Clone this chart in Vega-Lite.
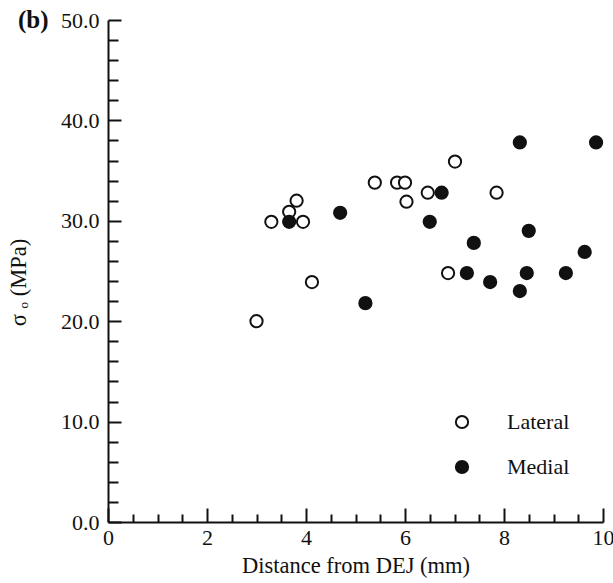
{
  "$schema": "https://vega.github.io/schema/vega-lite/v6.json",
  "width": 495,
  "height": 502,
  "autosize": {"type": "none"},
  "padding": {"left": 108, "top": 20, "right": 10, "bottom": 61},
  "background": "white",
  "title": {"text": "(b)", "anchor": "start", "frame": "group", "orient": "top", "dx": -90, "offset": -36, "baseline": "middle", "font": "Liberation Serif", "fontSize": 25, "fontWeight": "bold", "color": "#111"},
  "config": {
    "view": {"stroke": null},
    "axis": {"grid": false, "labelFlush": false, "domainColor": "#111", "domainWidth": 2, "tickColor": "#111", "tickWidth": 2, "labelFont": "Liberation Serif", "labelFontSize": 22, "labelColor": "#111", "titleFont": "Liberation Serif", "titleFontSize": 22.5, "titleFontWeight": "normal", "titleColor": "#111"}
  },
  "data": {"values": [
    {"d": 3.0, "s": 20.0, "side": "Lateral"},
    {"d": 3.3, "s": 29.9, "side": "Lateral"},
    {"d": 3.66, "s": 30.9, "side": "Lateral"},
    {"d": 3.81, "s": 32.0, "side": "Lateral"},
    {"d": 3.94, "s": 29.9, "side": "Lateral"},
    {"d": 4.12, "s": 23.9, "side": "Lateral"},
    {"d": 5.39, "s": 33.8, "side": "Lateral"},
    {"d": 5.84, "s": 33.8, "side": "Lateral"},
    {"d": 6.0, "s": 33.8, "side": "Lateral"},
    {"d": 6.03, "s": 31.9, "side": "Lateral"},
    {"d": 6.46, "s": 32.8, "side": "Lateral"},
    {"d": 7.01, "s": 35.9, "side": "Lateral"},
    {"d": 7.85, "s": 32.8, "side": "Lateral"},
    {"d": 6.87, "s": 24.8, "side": "Lateral"},
    {"d": 3.66, "s": 29.9, "side": "Medial"},
    {"d": 4.69, "s": 30.8, "side": "Medial"},
    {"d": 5.2, "s": 21.8, "side": "Medial"},
    {"d": 6.74, "s": 32.8, "side": "Medial"},
    {"d": 6.5, "s": 29.9, "side": "Medial"},
    {"d": 8.32, "s": 37.8, "side": "Medial"},
    {"d": 9.86, "s": 37.8, "side": "Medial"},
    {"d": 7.39, "s": 27.8, "side": "Medial"},
    {"d": 8.5, "s": 29.0, "side": "Medial"},
    {"d": 9.63, "s": 26.9, "side": "Medial"},
    {"d": 7.25, "s": 24.8, "side": "Medial"},
    {"d": 7.72, "s": 23.9, "side": "Medial"},
    {"d": 8.46, "s": 24.8, "side": "Medial"},
    {"d": 9.25, "s": 24.8, "side": "Medial"},
    {"d": 8.32, "s": 23.0, "side": "Medial"}
  ]},
  "layer": [
    {
      "mark": {"type": "point", "opacity": 0},
      "encoding": {
        "x": {"field": "d", "type": "quantitative", "scale": {"domain": [0, 10], "nice": false, "zero": false},
              "axis": {"orient": "bottom", "values": [0.5,1,1.5,2.5,3,3.5,4.5,5,5.5,6.5,7,7.5,8.5,9,9.5], "labels": false, "domain": false, "tickSize": -8, "title": null}},
        "y": {"field": "s", "type": "quantitative", "scale": {"domain": [0, 50], "nice": false, "zero": false},
              "axis": {"orient": "left", "values": [2,4,6,8,12,14,16,18,22,24,26,28,32,34,36,38,42,44,46,48], "labels": false, "domain": false, "tickSize": -10, "title": null}}
      }
    },
    {
      "mark": {"type": "point", "shape": "circle", "filled": true, "size": 150, "stroke": "#111", "strokeWidth": 2, "opacity": 1},
      "encoding": {
        "x": {"field": "d", "type": "quantitative",
              "axis": {"orient": "bottom", "values": [0,2,4,6,8,10], "tickSize": -14, "labelPadding": 19, "title": "Distance from DEJ (mm)", "titlePadding": 6}},
        "y": {"field": "s", "type": "quantitative",
              "axis": {"orient": "left", "values": [0,10,20,30,40,50], "format": ".1f", "tickSize": -13, "labelPadding": 22, "title": "σ ₒ (MPa)", "titlePadding": 30, "titleY": 262}},
        "fill": {"field": "side", "type": "nominal", "scale": {"domain": ["Lateral", "Medial"], "range": ["white", "#111"]},
                 "legend": {"title": null, "orient": "none", "legendX": 343, "legendY": 391, "symbolType": "circle", "symbolSize": 150, "symbolStrokeColor": "#111", "symbolStrokeWidth": 2, "labelFont": "Liberation Serif", "labelFontSize": 22, "labelColor": "#111", "labelOffset": 34, "rowPadding": 23}}
      }
    }
  ],
  "resolve": {"axis": {"x": "independent", "y": "independent"}}
}
